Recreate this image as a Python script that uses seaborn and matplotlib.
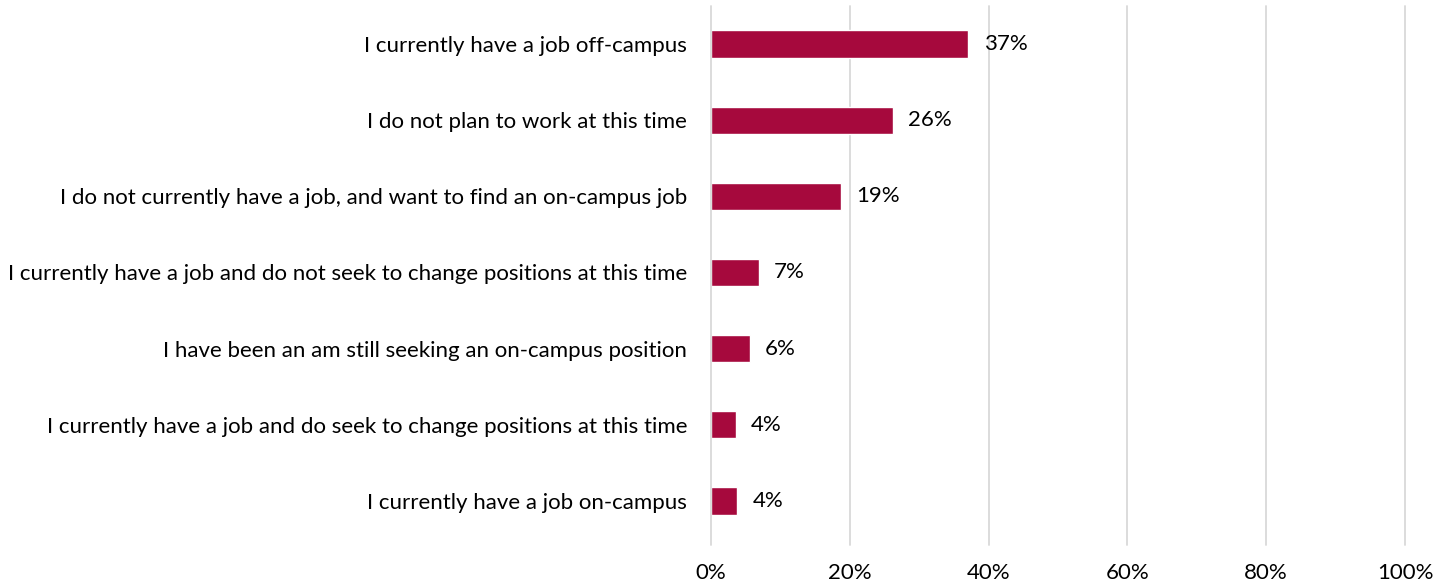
import matplotlib
matplotlib.use("Agg")
import matplotlib.pyplot as plt
import seaborn as sns
import pandas as pd

categories = [
    "I currently have a job off-campus",
    "I do not plan to work at this time",
    "I do not currently have a job, and want to find an on-campus job",
    "I currently have a job and do not seek to change positions at this time",
    "I have been an am still seeking an on-campus position",
    "I currently have a job and do seek to change positions at this time",
    "I currently have a job on-campus",
]
values = [37, 26, 19, 7, 6, 4, 4]
bar_lengths = [37.1, 26.2, 18.7, 6.9, 5.6, 3.6, 3.8]
tick_vals = [0, 20, 40, 60, 80, 100]
tick_labels = ["0%", "20%", "40%", "60%", "80%", "100%"]

df = pd.DataFrame({"cat": categories, "val": bar_lengths, "lab": [f"{v}%" for v in values]})

sns.set_theme(style="white")
plt.rcParams["font.family"] = ["Lato", "DejaVu Sans"]

FS = 16

fig = plt.figure(figsize=(14.5, 5.84), dpi=100)
ax = fig.add_axes([0.4903, 0.0771, 0.969 - 0.4903, 0.9897 - 0.0771])

sns.barplot(data=df, x="val", y="cat", color="#A6093D", width=0.36,
            saturation=1, ax=ax, orient="h")

ax.set_xlim(0, 100)
ax.set_ylim(6.5, -0.5)
ax.set_xticks(tick_vals)
ax.set_xticklabels(tick_labels, fontsize=FS, color="#000000")
ax.tick_params(axis="x", length=0, pad=17)
ax.tick_params(axis="y", length=0, pad=17, labelsize=FS, labelcolor="#000000")
ax.set_xlabel("")
ax.set_ylabel("")
for x in tick_vals[1:]:
    ax.axvline(x, color="#D9D9D9", lw=1.3, zorder=0, ymin=-0.012, clip_on=False)
ax.axvline(0, color="#D9D9D9", lw=1.3, zorder=3, ymin=-0.012, clip_on=False)
for s in ax.spines.values():
    s.set_visible(False)

for i, (v, lab) in enumerate(zip(bar_lengths, df["lab"])):
    ax.annotate(lab, (v, i), xytext=(11, 0), textcoords="offset points",
                va="center", ha="left", fontsize=FS, color="#000000")

fig.savefig("out.png", dpi=100)
